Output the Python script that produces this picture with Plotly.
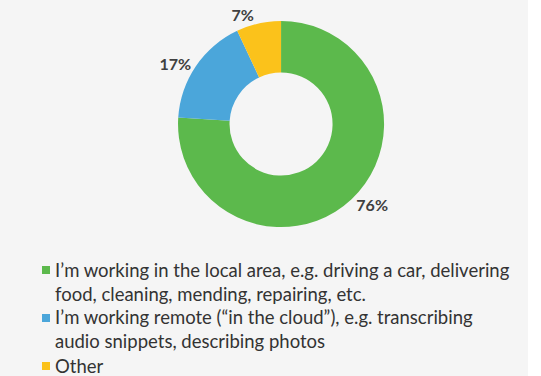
import plotly.graph_objects as go

# survey answers (share of respondents)
labels = [
    "I’m working in the local area, e.g. driving a car, delivering<br>food, cleaning, mending, repairing, etc.",
    "I’m working remote (“in the cloud”), e.g. transcribing<br>audio snippets, describing photos",
    "Other",
]
shares = [76, 17, 7]
colors = ["#5cb94c", "#4ba6da", "#fbc21b"]

W, H = 541, 376

fig = go.Figure()
fig.add_trace(go.Pie(
    labels=labels,
    values=shares,
    hole=0.5,
    sort=False,
    direction="clockwise",
    rotation=0,
    marker=dict(colors=colors, line=dict(width=0)),
    texttemplate="<b>%{percent:.0%}</b>",
    textposition="outside",
    textfont=dict(size=16, color="#404040", family="Lato"),
    domain=dict(x=[0.329, 0.710], y=[0.396, 0.944]),
    showlegend=False,
))

# legend drawn by hand so the little squares sit right next to the text
leg_square_y = [270, 318, 366]   # px from top, first line of each entry
leg_text_y = [281.5, 329, 366]
for lab, col, sy, ty in zip(labels, colors, leg_square_y, leg_text_y):
    fig.add_shape(type="rect", xref="paper", yref="paper",
                  x0=42 / W, x1=50 / W, y0=1 - (sy + 4) / H, y1=1 - (sy - 4) / H,
                  fillcolor=col, line=dict(width=0))
    fig.add_annotation(xref="paper", yref="paper", x=53 / W, y=1 - ty / H,
                       xanchor="left", yanchor="middle", align="left",
                       text=lab, showarrow=False,
                       font=dict(family="Lato", size=18.5, color="#333333"))

# white strip at the right edge of the original picture
fig.add_shape(type="rect", xref="paper", yref="paper", x0=528 / W, x1=1, y0=0, y1=1,
              fillcolor="#ffffff", line=dict(width=0), layer="below")

fig.update_layout(
    width=W, height=H,
    margin=dict(l=0, r=0, t=0, b=0),
    paper_bgcolor="#f5f5f5",
    plot_bgcolor="#f5f5f5",
    font=dict(family="Lato", size=15, color="#333333"),
    showlegend=False,
)

# drop the browser's default body margin so the figure fills the window
fig.write_html("out.html", config={"displayModeBar": False},
               post_script="document.body.style.margin='0';")
